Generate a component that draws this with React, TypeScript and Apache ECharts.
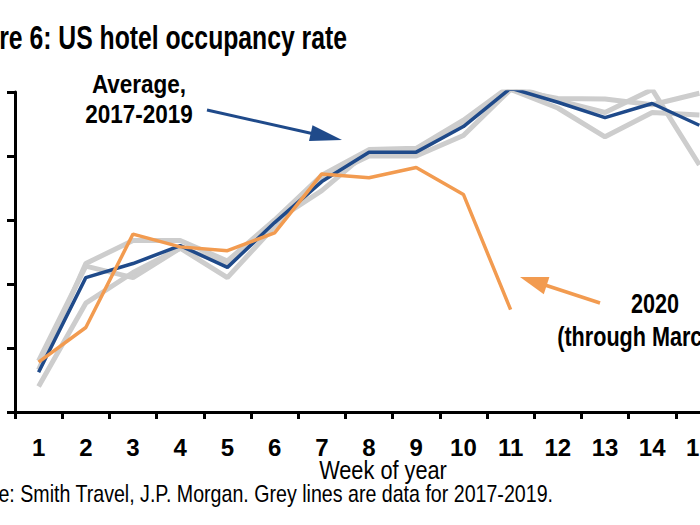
import React, { useEffect, useRef } from "react";
import * as echarts from "echarts";

const weeks = ["1", "2", "3", "4", "5", "6", "7", "8", "9", "10", "11", "12", "13", "14", "15"];
const avg2017to2019 = [48.1, 55.5, 56.6, 58.0, 56.3, 59.8, 63.0, 65.3, 65.3, 67.3, 70.3, 69.2, 68.0, 69.1, 67.4];
const grey2017 = [48.3, 56.6, 58.4, 58.4, 56.8, 60.0, 63.5, 65.5, 65.6, 67.8, 70.5, 69.35, 68.4, 70.2, 64.3];
const grey2018 = [49.0, 56.4, 55.5, 57.8, 55.5, 59.5, 63.2, 65.0, 65.0, 66.6, 70.2, 68.75, 66.5, 68.4, 68.2];
const grey2019 = [47.0, 53.5, 55.9, 57.8, 56.6, 59.9, 62.3, 65.4, 65.3, 67.5, 70.2, 69.5, 69.45, 69.0, 69.9];
const y2020 = [48.9, 51.6, 58.9, 57.9, 57.6, 59.0, 63.6, 63.3, 64.1, 62.0, 53.0];

const BLUE = "#1f4a8a";
const ORANGE = "#f29b50";
const GREY = "#cdcdcd";
const FONT = "'Liberation Sans', Arial, sans-serif";

export default function App() {
  const ref = useRef<HTMLDivElement>(null);
  useEffect(() => {
    if (!ref.current) return;
    const chart = echarts.init(ref.current, null, { renderer: "svg" });
    const greyLine = (name: string, data: number[]) => ({
      name,
      type: "line",
      data,
      symbol: "none",
      lineStyle: { color: GREY, width: 5 },
      z: 1,
    });
    chart.setOption({
      animation: false,
      backgroundColor: "#ffffff",
      grid: { left: 15, top: 92, bottom: 113, right: 17, containLabel: false },
      xAxis: {
        type: "category",
        data: weeks,
        boundaryGap: true,
        axisLine: { lineStyle: { color: "#000", width: 3 } },
        axisTick: { show: true, interval: 0, length: 7, lineStyle: { color: "#000", width: 3 } },
        axisLabel: {
          interval: 0,
          margin: 23,
          color: "#000",
          fontWeight: "bold",
          fontSize: 24,
          fontFamily: "'Liberation Sans Narrow', 'Liberation Sans', Arial, sans-serif",
        },
      },
      yAxis: {
        type: "value",
        min: 45,
        max: 70,
        interval: 5,
        axisLine: { show: true, lineStyle: { color: "#000", width: 3 } },
        axisTick: { show: true, length: 8, lineStyle: { color: "#000", width: 3 } },
        axisLabel: { show: false },
        splitLine: { show: false },
      },
      series: [
        greyLine("2017", grey2017),
        greyLine("2018", grey2018),
        greyLine("2019", grey2019),
        {
          name: "Average, 2017-2019",
          type: "line",
          data: avg2017to2019,
          symbol: "none",
          lineStyle: { color: BLUE, width: 3.5 },
          z: 2,
        },
        {
          name: "2020",
          type: "line",
          data: y2020,
          symbol: "none",
          lineStyle: { color: ORANGE, width: 3.5 },
          z: 3,
        },
      ],
      graphic: [
        {
          type: "text",
          x: 347,
          y: 38,
          scaleX: 0.75,
          style: {
            text: "Figure 6: US hotel occupancy rate",
            font: `bold 33px ${FONT}`,
            fill: "#000",
            textAlign: "right",
            textVerticalAlign: "middle",
          },
        },
        {
          type: "text",
          x: 139,
          y: 99,
          scaleX: 0.9,
          style: {
            text: "Average,\n2017-2019",
            font: `bold 25px ${FONT}`,
            lineHeight: 30,
            fill: "#000",
            textAlign: "center",
            textVerticalAlign: "middle",
          },
        },
        {
          type: "line",
          shape: { x1: 207, y1: 110, x2: 312, y2: 133.5 },
          style: { stroke: BLUE, lineWidth: 3 },
        },
        {
          type: "polygon",
          shape: { points: [[342, 140], [309, 141], [312.5, 125.3]] },
          style: { fill: BLUE },
        },
        {
          type: "line",
          shape: { x1: 600, y1: 303, x2: 545, y2: 285 },
          style: { stroke: ORANGE, lineWidth: 3.5 },
        },
        {
          type: "polygon",
          shape: { points: [[520, 277], [549.4, 277.1], [543.8, 294.3]] },
          style: { fill: ORANGE },
        },
        {
          type: "text",
          x: 655,
          y: 320,
          scaleX: 0.8,
          style: {
            text: "2020\n(through March 14)",
            font: `bold 27px ${FONT}`,
            lineHeight: 33,
            fill: "#000",
            textAlign: "center",
            textVerticalAlign: "middle",
          },
        },
        {
          type: "text",
          x: 383,
          y: 470,
          scaleX: 0.87,
          style: {
            text: "Week of year",
            font: `25px ${FONT}`,
            fill: "#000",
            textAlign: "center",
            textVerticalAlign: "middle",
          },
        },
        {
          type: "text",
          x: 553,
          y: 494,
          scaleX: 0.818,
          style: {
            text: "Source: Smith Travel, J.P. Morgan. Grey lines are data for 2017-2019.",
            font: `24px ${FONT}`,
            fill: "#000",
            textAlign: "right",
            textVerticalAlign: "middle",
          },
        },
      ],
    });
    return () => chart.dispose();
  }, []);
  return (
    <div
      style={{
        position: "fixed",
        left: 0,
        top: 0,
        width: 700,
        height: 525,
        overflow: "hidden",
        background: "#fff",
      }}
    >
      <div ref={ref} style={{ width: 740, height: 525 }} />
    </div>
  );
}
